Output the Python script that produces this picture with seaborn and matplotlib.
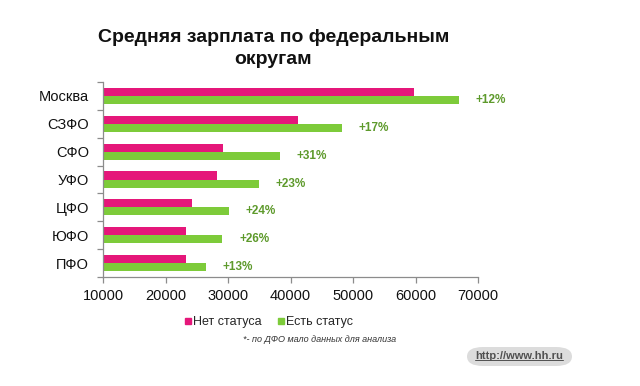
import matplotlib
matplotlib.use("Agg")
import matplotlib.pyplot as plt
import pandas as pd
import seaborn as sns
from matplotlib.patches import FancyBboxPatch
from matplotlib.lines import Line2D

regions = ["Москва", "СЗФО", "СФО", "УФО", "ЦФО", "ЮФО", "ПФО"]
no_status = [59700, 41200, 29200, 28200, 24300, 23200, 23200]
with_status = [67000, 48200, 38300, 35000, 30100, 29100, 26400]
growth_labels = ["+12%", "+17%", "+31%", "+23%", "+24%", "+26%", "+13%"]
series_names = ["Нет статуса", "Есть статус"]
x_ticks = [10000, 20000, 30000, 40000, 50000, 60000, 70000]

PINK = "#E5177A"
GREEN = "#7DCB3A"

sns.set_style("white")
plt.rcParams["font.family"] = ["Liberation Sans", "DejaVu Sans"]

df = pd.DataFrame({
    "region": regions * 2,
    "salary": no_status + with_status,
    "status": [series_names[0]] * len(regions) + [series_names[1]] * len(regions),
})

fig = plt.figure(figsize=(6.4, 3.86), dpi=100)
ax = fig.add_axes([0.161, 0.2824, 0.586, 0.505])

sns.barplot(data=df, y="region", x="salary", hue="status", orient="h",
            palette=[PINK, GREEN], width=0.58, saturation=1, linewidth=0,
            ax=ax, order=regions, hue_order=series_names)

ax.set_xlim(x_ticks[0], x_ticks[-1])
ax.set_ylim(len(regions) - 0.5, -0.5)
ax.set_xticks(x_ticks)
ax.set_xticklabels([str(t) for t in x_ticks])
ax.set_xlabel("")
ax.set_ylabel("")

for side in ["top", "right"]:
    ax.spines[side].set_visible(False)
for side in ["left", "bottom"]:
    ax.spines[side].set_color("#8C8C8C")
    ax.spines[side].set_linewidth(0.9)

ax.tick_params(axis="x", direction="out", length=4, width=0.9, color="#8C8C8C",
               labelsize=10.5, labelcolor="#111111", pad=5, bottom=True)
ax.tick_params(axis="y", which="major", length=0, labelsize=10.5,
               labelcolor="#111111", pad=10)
ax.set_yticks([i + 0.5 for i in range(-1, len(regions))], minor=True)
ax.tick_params(axis="y", which="minor", direction="out", length=4, width=0.9,
               color="#8C8C8C", left=True)

# growth labels next to green bars
for patch, lab in zip(ax.containers[1].patches, growth_labels):
    y = patch.get_y() + patch.get_height() / 2
    ax.annotate(lab, xy=(patch.get_width(), y), xytext=(12, 0),
                textcoords="offset points", va="center", ha="left",
                fontsize=8.5, fontweight="bold", color="#5E9A2C",
                annotation_clip=False)

ax.legend_.remove()
handles = [Line2D([], [], marker="s", linestyle="", markersize=5, color=c)
           for c in [PINK, GREEN]]
fig.legend(handles, series_names, loc="center", bbox_to_anchor=(0.42, 1 - 322 / 386),
           ncol=2, frameon=False, fontsize=9, handletextpad=0.1,
           columnspacing=1.2, handlelength=0.6)

fig.text(0.427, 1 - 48.5 / 386, "Средняя зарплата по федеральным\nокругам",
         ha="center", va="center", fontsize=14, fontweight="bold",
         color="#111111", linespacing=1.4)
fig.text(0.5, 1 - 339 / 386, "*- по ДФО мало данных для анализа", ha="center",
         va="center", fontsize=6.5, style="italic", color="#333333")

box = FancyBboxPatch((467 / 640, 1 - 366 / 386), 105 / 640, 19 / 386,
                     boxstyle="round,pad=0,rounding_size=0.025",
                     transform=fig.transFigure, facecolor="#DCDCDC",
                     edgecolor="none")
fig.patches.append(box)
url = fig.text(519 / 640, 1 - 356 / 386, "http://www.hh.ru", ha="center",
               va="center", fontsize=8, fontweight="bold", color="#505050")
fig.canvas.draw()
bb = url.get_window_extent().transformed(fig.transFigure.inverted())
fig.add_artist(Line2D([bb.x0, bb.x1], [bb.y0 + 0.003, bb.y0 + 0.003],
                      transform=fig.transFigure, color="#505050", linewidth=0.7))

fig.savefig("out.png", dpi=100)
